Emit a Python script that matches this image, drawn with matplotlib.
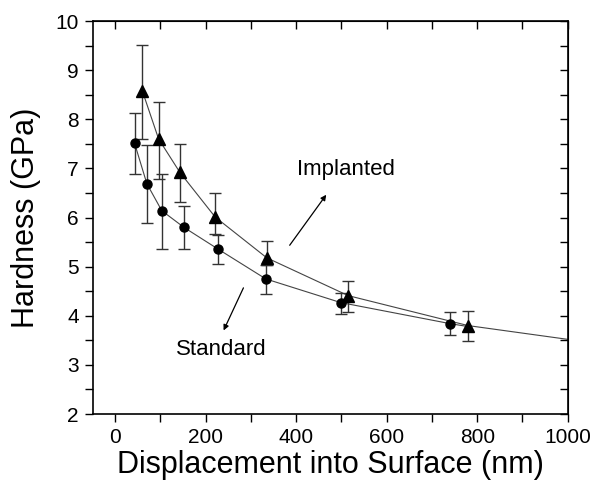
import matplotlib.pyplot as plt
from matplotlib.ticker import MultipleLocator

plt.rcParams["font.family"] = ["Liberation Sans", "DejaVu Sans"]

# standard sample (circles)
std_x = [43, 70, 103, 152, 227, 333, 498, 740]
std_y = [7.51, 6.69, 6.14, 5.80, 5.36, 4.75, 4.27, 3.84]
std_lo = [6.88, 5.89, 5.36, 5.36, 5.05, 4.44, 4.03, 3.60]
std_hi = [8.13, 7.47, 6.89, 6.24, 5.64, 5.04, 4.47, 4.08]

# implanted sample (triangles)
imp_x = [60, 96, 143, 221, 335, 515, 780]
imp_y = [8.58, 7.60, 6.92, 6.01, 5.18, 4.41, 3.80]
imp_lo = [7.60, 6.78, 6.32, 5.66, 5.03, 4.07, 3.49]
imp_hi = [9.51, 8.36, 7.50, 6.49, 5.53, 4.71, 4.10]

# connecting curves (implanted one runs on to the axis edge)
std_line_x = std_x + [780]
std_line_y = std_y + [3.78]
imp_line_x = imp_x + [1000]
imp_line_y = imp_y + [3.52]

fig = plt.figure(figsize=(5.97, 4.80), dpi=100)
ax = fig.add_axes([0.155, 0.1375, 0.796, 0.8185])

ax.plot(std_line_x, std_line_y, color="#444444", lw=0.8, zorder=2)
ax.plot(imp_line_x, imp_line_y, color="#444444", lw=0.8, zorder=2)

std_err = [[y - lo for y, lo in zip(std_y, std_lo)],
           [hi - y for y, hi in zip(std_y, std_hi)]]
imp_err = [[y - lo for y, lo in zip(imp_y, imp_lo)],
           [hi - y for y, hi in zip(imp_y, imp_hi)]]

ax.errorbar(std_x, std_y, yerr=std_err, fmt="o", color="black", ms=6.5,
            ecolor="#333333", elinewidth=1.0, capsize=4, capthick=1.0, zorder=3)
ax.errorbar(imp_x, imp_y, yerr=imp_err, fmt="^", color="black", ms=8.5,
            ecolor="#333333", elinewidth=1.0, capsize=4, capthick=1.0, zorder=3)

# labels with arrows
ax.text(509, 6.97, "Implanted", fontsize=16, ha="center", va="center")
ax.annotate("", xy=(470, 6.51), xytext=(382, 5.39),
            arrowprops=dict(arrowstyle="-|>", color="black", lw=0.9,
                            mutation_scale=8))
ax.text(235, 3.32, "Standard", fontsize=16, ha="center", va="center")
ax.annotate("", xy=(237, 3.65), xytext=(286, 4.62),
            arrowprops=dict(arrowstyle="-|>", color="black", lw=0.9,
                            mutation_scale=8))

ax.set_xlim(-50, 1000)
ax.set_ylim(2, 10)
ax.xaxis.set_major_locator(MultipleLocator(200))
ax.xaxis.set_minor_locator(MultipleLocator(100))
ax.yaxis.set_major_locator(MultipleLocator(1))
ax.yaxis.set_minor_locator(MultipleLocator(0.5))
ax.tick_params(which="both", direction="out", width=1.0, labelsize=15, pad=4)
ax.tick_params(which="major", length=6)
ax.tick_params(which="minor", length=6)

# top / right ticks point inwards
top = ax.secondary_xaxis("top")
top.xaxis.set_major_locator(MultipleLocator(200))
top.xaxis.set_minor_locator(MultipleLocator(100))
top.tick_params(which="both", direction="in", length=6, width=1.0, labeltop=False)
right = ax.secondary_yaxis("right")
right.yaxis.set_major_locator(MultipleLocator(1))
right.yaxis.set_minor_locator(MultipleLocator(0.5))
right.tick_params(which="both", direction="in", length=6, width=1.0, labelright=False)

for s in ax.spines.values():
    s.set_linewidth(1.2)

ax.set_xlabel("Displacement into Surface (nm)", fontsize=22, labelpad=2)
ax.set_ylabel("Hardness (GPa)", fontsize=22, labelpad=10)

fig.savefig("out.png", dpi=100)
